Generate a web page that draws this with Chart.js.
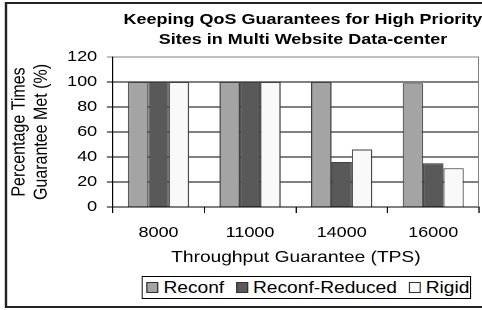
<!DOCTYPE html>
<html>
<head>
<meta charset="utf-8">
<script src="https://cdn.jsdelivr.net/npm/chart.js@4.4.1/dist/chart.umd.min.js"></script>
<style>
  html, body { margin: 0; padding: 0; background: #fff; overflow: hidden; }
  body { width: 482px; height: 310px; position: relative; }
  /* the original picture is stretched sideways, so the whole chart is drawn narrow and scaled */
  #wrap {
    position: absolute; left: 0; top: 0;
    width: 402px; height: 310px;
    transform: scaleX(1.199); transform-origin: 0 0;
    font-family: "Liberation Sans", Arial, sans-serif; color: #000;
  }
  #frame {
    position: absolute; left: 4px; top: 2px; width: 420px; height: 302px;
    border: 2px solid #222;
  }
  #chartBox { position: absolute; left: 0; top: 0; width: 402px; height: 310px; }
  #title {
    position: absolute; left: 52.7px; top: 8.5px; width: 400px;
    text-align: center; font-weight: bold; font-size: 15px; line-height: 20.5px;
  }
  #legend {
    position: absolute; left: 118px; top: 276px; width: 275px; height: 23px;
    box-sizing: border-box; border: 1px solid #000; background: #fff;
    display: flex; align-items: center; padding-left: 3.3px;
    font-size: 16px; white-space: nowrap;
  }
  #legend .box {
    display: inline-block; width: 10px; height: 11px; box-sizing: border-box;
    border: 1px solid #333; margin-right: 4px;
  }
  #legend .item { display: flex; align-items: center; margin-right: 10px; }
</style>
</head>
<body>
<div id="wrap">
  <div id="frame"></div>
  <div id="chartBox"><canvas id="chart"></canvas></div>
  <div id="title">Keeping QoS Guarantees for High Priority<br>Sites in Multi Website Data-center</div>
  <div id="legend"></div>
</div>

<script>
/* =========================
   DATOS
========================= */
const categories = ["8000", "11000", "14000", "16000"];
const seriesNames = ["Reconf", "Reconf-Reduced", "Rigid"];
const reconf = [100, 100, 100, 99];
const reconfReduced = [100, 100, 36, 35];
const rigid = [100, 100, 46, 31];
const yTicks = [0, 20, 40, 60, 80, 100, 120];

const fills = ["#a4a4a4", "#595959", "#f9f9f9"];
const FONT = "'Liberation Sans', Arial, sans-serif";

/* =========================
   LEYENDA
========================= */
const legend = document.getElementById("legend");
seriesNames.forEach((name, i) => {
  const item = document.createElement("span");
  item.className = "item";
  item.innerHTML = `<span class="box" style="background:${fills[i]}"></span><span>${name}</span>`;
  legend.appendChild(item);
});

/* =========================
   BORDE DEL AREA
========================= */
const plotBorder = {
  id: "plotBorder",
  afterDatasetsDraw(chart) {
    const { ctx, chartArea } = chart;
    ctx.save();
    ctx.strokeStyle = "#808080";
    ctx.lineWidth = 1;
    ctx.beginPath();
    ctx.moveTo(chartArea.right - 0.5, chartArea.top);
    ctx.lineTo(chartArea.right - 0.5, chartArea.bottom);
    ctx.stroke();
    ctx.restore();
  }
};

/* =========================
   GRAFICO
========================= */
const values = [reconf, reconfReduced, rigid];

new Chart(document.getElementById("chart"), {
  type: "bar",
  data: {
    labels: categories,
    datasets: seriesNames.map((name, i) => ({
      label: name,
      data: values[i],
      backgroundColor: fills[i],
      borderColor: "#404040",
      borderWidth: 1,
      categoryPercentage: 0.667,
      barPercentage: 1
    }))
  },
  options: {
    responsive: true,
    maintainAspectRatio: false,
    animation: false,
    devicePixelRatio: 2,
    layout: { padding: { left: 7, right: 2.5, top: 57, bottom: 43 } },
    plugins: {
      legend: { display: false },
      tooltip: { enabled: false }
    },
    scales: {
      x: {
        offset: true,
        grid: {
          offset: true,
          drawOnChartArea: false,
          drawTicks: true,
          tickLength: 6,
          color: "#000"
        },
        border: { color: "#000", width: 1 },
        ticks: {
          color: "#000",
          padding: 11,
          font: { family: FONT, size: 15 }
        },
        title: {
          display: true,
          text: "Throughput Guarantee (TPS)",
          color: "#000",
          font: { family: FONT, size: 16, lineHeight: 1.2 },
          padding: { top: 0, bottom: 0 }
        },
        afterFit(scale) { scale.height = 60; }
      },
      y: {
        min: 0,
        max: 120,
        afterBuildTicks(scale) { scale.ticks = yTicks.map(v => ({ value: v })); },
        grid: {
          color: ctx => (ctx.tick && ctx.tick.value === 120 ? "#808080" : "#000"),
          tickLength: 5,
          drawTicks: true
        },
        border: { color: "#000", width: 1 },
        ticks: {
          color: "#000",
          padding: 8,
          font: { family: FONT, size: 15 }
        },
        title: {
          display: true,
          text: ["Percentage Times", "Guarantee Met (%)"],
          color: "#000",
          font: { family: FONT, size: 16, lineHeight: 1.15 },
          padding: { top: 0, bottom: 0 }
        },
        afterFit(scale) { scale.width = 87; }
      }
    }
  },
  plugins: [plotBorder]
});
</script>
</body>
</html>
